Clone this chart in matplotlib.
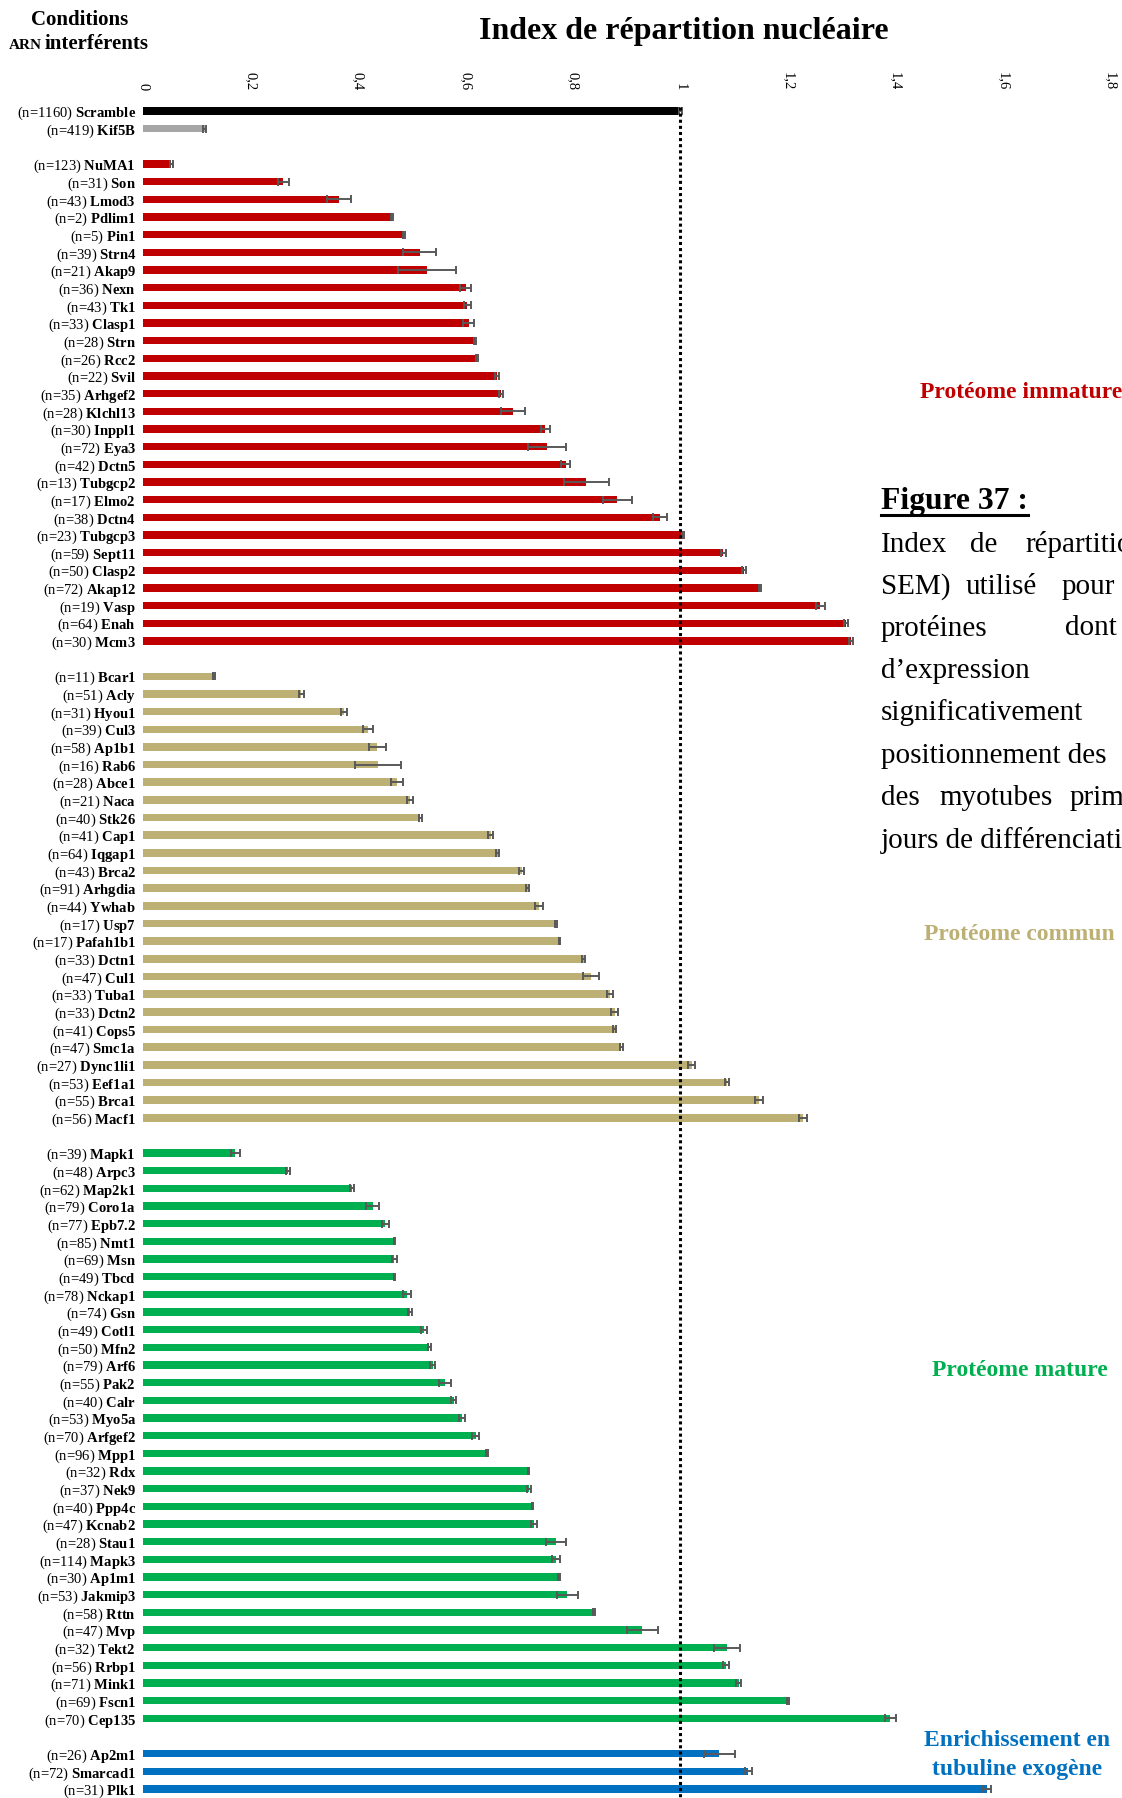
import numpy as np
import matplotlib
matplotlib.use("Agg")
import matplotlib.pyplot as plt
from matplotlib.lines import Line2D

plt.rcParams["font.family"] = ["Liberation Serif", "DejaVu Serif"]
plt.rcParams["mathtext.fontset"] = "custom"
plt.rcParams["mathtext.rm"] = "Liberation Serif"
plt.rcParams["mathtext.bf"] = "Liberation Serif:bold"
plt.rcParams["mathtext.it"] = "Liberation Serif:italic"

# ---- data ----
ctrl_names = ["Scramble", "Kif5B"]
ctrl_n = [1160, 419]
ctrl_mean = [1.0, 0.115]
ctrl_sem = [0.003, 0.003]

immature_names = ["NuMA1", "Son", "Lmod3", "Pdlim1", "Pin1", "Strn4", "Akap9", "Nexn", "Tk1",
                  "Clasp1", "Strn", "Rcc2", "Svil", "Arhgef2", "Klchl13", "Inppl1", "Eya3",
                  "Dctn5", "Tubgcp2", "Elmo2", "Dctn4", "Tubgcp3", "Sept11", "Clasp2", "Akap12",
                  "Vasp", "Enah", "Mcm3"]
immature_n = [123, 31, 43, 2, 5, 39, 21, 36, 43, 33, 28, 26, 22, 35, 28, 30, 72, 42, 13, 17,
              38, 23, 59, 50, 72, 19, 64, 30]
immature_mean = [0.053, 0.261, 0.365, 0.464, 0.486, 0.515, 0.528, 0.601, 0.604, 0.606, 0.618,
                 0.621, 0.659, 0.667, 0.689, 0.749, 0.752, 0.787, 0.825, 0.883, 0.963, 1.005,
                 1.080, 1.119, 1.149, 1.261, 1.309, 1.318]
immature_sem = [0.002, 0.010, 0.022, 0.002, 0.002, 0.031, 0.054, 0.010, 0.007, 0.010, 0.002,
                0.002, 0.004, 0.004, 0.022, 0.009, 0.035, 0.008, 0.042, 0.027, 0.013, 0.002,
                0.005, 0.004, 0.002, 0.008, 0.004, 0.004]

common_names = ["Bcar1", "Acly", "Hyou1", "Cul3", "Ap1b1", "Rab6", "Abce1", "Naca", "Stk26",
                "Cap1", "Iqgap1", "Brca2", "Arhgdia", "Ywhab", "Usp7", "Pafah1b1", "Dctn1",
                "Cul1", "Tuba1", "Dctn2", "Cops5", "Smc1a", "Dync1li1", "Eef1a1", "Brca1", "Macf1"]
common_n = [11, 51, 31, 39, 58, 16, 28, 21, 40, 41, 64, 43, 91, 44, 17, 17, 33, 47, 33, 33,
            41, 47, 27, 53, 55, 56]
common_mean = [0.132, 0.295, 0.374, 0.419, 0.436, 0.438, 0.473, 0.497, 0.516, 0.647, 0.660,
               0.705, 0.716, 0.737, 0.769, 0.775, 0.820, 0.834, 0.869, 0.878, 0.878, 0.890,
               1.021, 1.087, 1.147, 1.229]
common_sem = [0.002, 0.004, 0.006, 0.010, 0.016, 0.043, 0.011, 0.006, 0.003, 0.005, 0.002,
              0.005, 0.003, 0.007, 0.002, 0.001, 0.003, 0.015, 0.005, 0.006, 0.003, 0.003,
              0.006, 0.004, 0.007, 0.007]

mature_names = ["Mapk1", "Arpc3", "Map2k1", "Coro1a", "Epb7.2", "Nmt1", "Msn", "Tbcd", "Nckap1",
                "Gsn", "Cotl1", "Mfn2", "Arf6", "Pak2", "Calr", "Myo5a", "Arfgef2", "Mpp1",
                "Rdx", "Nek9", "Ppp4c", "Kcnab2", "Stau1", "Mapk3", "Ap1m1", "Jakmip3", "Rttn",
                "Mvp", "Tekt2", "Rrbp1", "Mink1", "Fscn1", "Cep135"]
mature_n = [39, 48, 62, 79, 77, 85, 69, 49, 78, 74, 49, 50, 79, 55, 40, 53, 70, 96, 32, 37, 40,
            47, 28, 114, 30, 53, 58, 47, 32, 56, 71, 69, 70]
mature_mean = [0.172, 0.270, 0.389, 0.428, 0.451, 0.469, 0.468, 0.469, 0.491, 0.497, 0.523,
               0.533, 0.539, 0.562, 0.578, 0.594, 0.619, 0.641, 0.717, 0.719, 0.725, 0.728,
               0.769, 0.769, 0.774, 0.790, 0.840, 0.929, 1.087, 1.085, 1.109, 1.200, 1.391]
mature_sem = [0.008, 0.003, 0.003, 0.012, 0.006, 0.001, 0.004, 0.001, 0.007, 0.003, 0.006,
              0.003, 0.004, 0.011, 0.004, 0.006, 0.006, 0.002, 0.001, 0.004, 0.001, 0.006,
              0.019, 0.007, 0.002, 0.020, 0.002, 0.029, 0.025, 0.005, 0.005, 0.002, 0.010]

tubulin_names = ["Ap2m1", "Smarcad1", "Plk1"]
tubulin_n = [26, 72, 31]
tubulin_mean = [1.073, 1.127, 1.571]
tubulin_sem = [0.029, 0.007, 0.007]

x_ticks = [0, 0.2, 0.4, 0.6, 0.8, 1.0, 1.2, 1.4, 1.6, 1.8]
x_tick_labels = ["0", "0,2", "0,4", "0,6", "0,8", "1", "1,2", "1,4", "1,6", "1,8"]

# ---- styles ----
GROUPS = [
    (ctrl_names, ctrl_n, ctrl_mean, ctrl_sem, ["#000000", "#A6A6A6"]),
    (immature_names, immature_n, immature_mean, immature_sem, "#C00000"),
    (common_names, common_n, common_mean, common_sem, "#BDB075"),
    (mature_names, mature_n, mature_mean, mature_sem, "#00B050"),
    (tubulin_names, tubulin_n, tubulin_mean, tubulin_sem, "#0070C0"),
]
W, H = 1122, 1798
DPI = 100
ERR_COLOR = "#595959"

fig = plt.figure(figsize=(W / DPI, H / DPI), dpi=DPI)
fig.patch.set_facecolor("white")

# axes: x=0 at px 143, x=1.8 at px 1110 ; top at px 97, bottom at figure bottom
ax_top = 97
ax = fig.add_axes([143 / W, 0, (1110 - 143) / W, (H - ax_top) / H])

row_step = (1789 - 111) / 95.0
slot_top = (ax_top - 111) / row_step
slot_bottom = (H - 111) / row_step

slot = 0
yticks, ylabels = [], []
for names, ns, means, sems, color in GROUPS:
    ys = np.arange(slot, slot + len(names))
    ax.barh(ys, means, height=0.42, color=color, xerr=sems,
            error_kw=dict(ecolor=ERR_COLOR, elinewidth=1.4, capsize=3, capthick=1.4), zorder=3)
    for y, nm, n in zip(ys, names, ns):
        yticks.append(y)
        ylabels.append(f"(n={n}) $\\mathbf{{{nm}}}$")
    slot += len(names) + 1

ax.set_ylim(slot_bottom, slot_top)
ax.set_xlim(0, 1.8)
ax.set_yticks(yticks)
ax.set_yticklabels(ylabels, fontsize=10.5)
ax.tick_params(axis="y", length=0, pad=5)

ax.xaxis.tick_top()
ax.set_xticks(x_ticks)
ax.set_xticklabels(x_tick_labels, rotation=-90, fontsize=10.5)
ax.tick_params(axis="x", length=0, pad=5)

for s in ax.spines.values():
    s.set_visible(False)

# dotted reference line at 1
ax.plot([1, 1], [-0.25, slot_bottom + 1], color="black", lw=2.2,
        linestyle=(0, (1.0, 1.0)), zorder=4)


def fx(px):
    return px / W


def fy(py):
    return 1 - py / H


# ---- header texts ----
fig.text(fx(684), fy(32), "Index de répartition nucléaire", fontsize=23, fontweight="bold",
         ha="center", va="center")
fig.text(fx(80), fy(20), "Conditions", fontsize=15, fontweight="bold", ha="center", va="center")
fig.text(fx(42), fy(49), "ARN", fontsize=11, fontweight="bold", ha="right", va="baseline")
fig.text(fx(45), fy(49), "interférents", fontsize=15, fontweight="bold", ha="left", va="baseline")

# ---- group annotations ----
fig.text(fx(920), fy(393), "Protéome immature", fontsize=17, fontweight="bold",
         color="#C00000", ha="left", va="center")
fig.text(fx(924), fy(934), "Protéome commun", fontsize=17, fontweight="bold",
         color="#BDB075", ha="left", va="center")
fig.text(fx(932), fy(1370), "Protéome mature", fontsize=17, fontweight="bold",
         color="#00B050", ha="left", va="center")
fig.text(fx(1017), fy(1740), "Enrichissement en", fontsize=17, fontweight="bold",
         color="#0070C0", ha="center", va="center")
fig.text(fx(1017), fy(1769), "tubuline exogène", fontsize=17, fontweight="bold",
         color="#0070C0", ha="center", va="center")

# ---- caption (cut at the right edge like the source page) ----
fig_title = fig.text(fx(881), fy(502), "Figure 37 :", fontsize=22.8, fontweight="bold",
                     ha="left", va="center")
caption_words = [
    ("Index", 881, 545), ("de", 970, 545), ("répartition", 1025, 545),
    ("SEM)", 881, 587), ("utilisé", 966, 587), ("pour", 1062, 587),
    ("protéines", 881, 628), ("dont", 1065, 628),
    ("d’expression", 881, 671),
    ("significativement", 881, 713),
    ("positionnement des", 881, 756),
    ("des", 881, 798), ("myotubes", 939, 798), ("primaires", 1070, 798),
    ("jours de différenciation", 881, 841),
]
for word, px, py in caption_words:
    fig.text(fx(px), fy(py), word, fontsize=21, ha="left", va="center")

fig.canvas.draw()
bb = fig_title.get_window_extent()
fig.add_artist(Line2D([bb.x0 / W, bb.x1 / W], [(bb.y0 + 1) / H, (bb.y0 + 1) / H],
                      color="black", lw=2.2, transform=fig.transFigure))

fig.savefig("out.png", dpi=DPI)
